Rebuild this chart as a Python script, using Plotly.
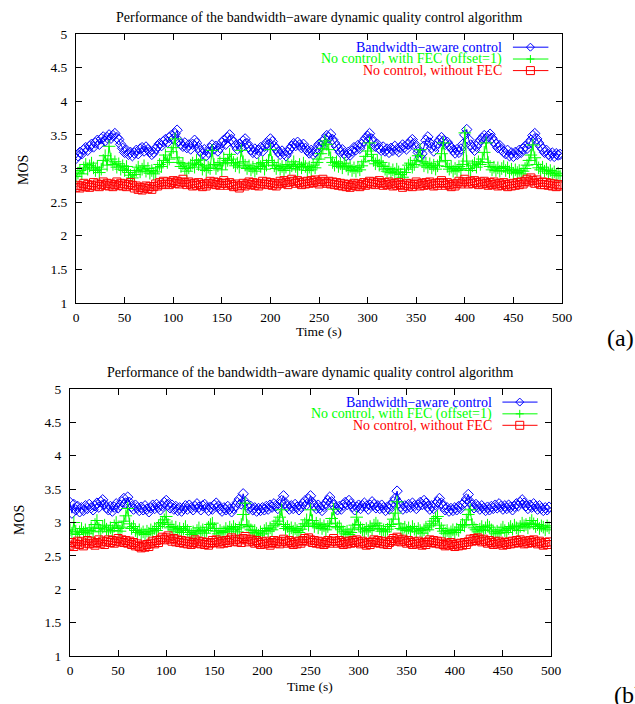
import plotly.graph_objects as go

# Sampling instants (s)
time_s = list(range(0, 500, 2))

# ---- Panel (a) : MOS series ----
a_bw = [
    3.15,3.19,3.24,3.22,3.28,3.31,3.27,3.33,3.36,3.32,
    3.38,3.42,3.36,3.44,3.47,3.41,3.46,3.50,3.45,3.49,
    3.52,3.46,3.43,3.36,3.30,3.24,3.27,3.21,3.24,3.19,
    3.23,3.27,3.22,3.29,3.31,3.26,3.32,3.28,3.25,3.21,
    3.24,3.29,3.33,3.37,3.34,3.40,3.43,3.39,3.46,3.49,
    3.44,3.52,3.57,3.41,3.36,3.33,3.38,3.31,3.35,3.29,
    3.36,3.42,3.38,3.31,3.26,3.22,3.28,3.19,3.24,3.30,
    3.35,3.29,3.33,3.26,3.31,3.38,3.42,3.36,3.46,3.50,
    3.43,3.39,3.34,3.29,3.36,3.31,3.41,3.44,3.37,3.32,
    3.28,3.24,3.29,3.22,3.27,3.31,3.26,3.33,3.38,3.35,
    3.44,3.40,3.33,3.29,3.25,3.21,3.26,3.22,3.19,3.24,
    3.29,3.33,3.37,3.34,3.39,3.35,3.31,3.36,3.30,3.27,
    3.23,3.27,3.21,3.25,3.31,3.36,3.33,3.40,3.44,3.49,
    3.46,3.51,3.43,3.38,3.33,3.29,3.24,3.28,3.22,3.19,
    3.24,3.20,3.26,3.31,3.28,3.34,3.30,3.36,3.41,3.45,
    3.48,3.52,3.44,3.39,3.33,3.36,3.30,3.27,3.32,3.26,
    3.29,3.24,3.30,3.27,3.33,3.28,3.25,3.31,3.35,3.32,
    3.29,3.36,3.40,3.43,3.37,3.31,3.24,3.17,3.22,3.33,
    3.42,3.47,3.38,3.31,3.26,3.33,3.38,3.42,3.46,3.41,
    3.36,3.39,3.34,3.31,3.27,3.23,3.28,3.24,3.29,3.36,
    3.50,3.58,3.43,3.35,3.31,3.27,3.33,3.38,3.42,3.45,
    3.49,3.44,3.48,3.51,3.45,3.40,3.36,3.31,3.34,3.28,
    3.25,3.22,3.27,3.19,3.23,3.18,3.24,3.21,3.27,3.24,
    3.29,3.33,3.30,3.37,3.42,3.49,3.52,3.44,3.38,3.33,
    3.29,3.24,3.27,3.21,3.19,3.23,3.18,3.22,3.20,3.21,
]
a_fec = [
    2.88,2.93,2.97,2.92,3.01,3.06,2.99,3.04,3.08,3.01,
    2.97,3.02,2.94,2.99,3.12,3.19,3.05,3.33,3.14,3.06,
    3.10,3.02,3.07,2.99,3.04,2.97,3.03,2.94,2.90,2.86,
    2.91,2.97,3.02,2.95,2.99,3.04,2.96,3.00,2.93,2.97,
    2.92,2.95,3.01,3.06,3.03,3.12,3.20,3.09,3.14,3.25,
    3.31,3.44,3.16,3.09,3.03,3.07,3.00,2.96,3.01,3.05,
    3.08,3.02,3.12,3.06,3.13,2.99,3.04,2.97,3.02,3.00,
    3.27,3.06,3.00,3.04,3.09,2.98,3.15,3.07,3.12,3.21,
    3.14,3.09,3.04,3.08,3.02,3.27,3.10,3.05,3.00,3.04,
    2.98,3.02,2.96,3.00,3.07,3.03,3.09,2.99,3.05,3.12,
    3.28,3.09,3.04,3.00,3.05,2.99,3.03,2.97,3.02,3.06,
    3.00,3.04,3.10,3.03,2.98,3.06,3.01,3.08,3.03,2.97,
    3.02,2.98,3.05,3.01,3.09,3.14,3.22,3.30,3.41,3.36,
    3.28,3.16,3.09,3.05,3.10,3.03,3.07,3.01,3.08,3.04,
    2.99,3.03,2.97,3.01,2.96,3.02,2.98,3.04,3.10,3.18,
    3.26,3.38,3.21,3.12,3.07,3.11,3.05,3.09,3.03,2.99,
    2.96,3.00,2.94,2.98,2.93,2.99,2.95,2.91,2.87,2.94,
    2.99,3.05,3.08,3.02,3.06,3.12,3.19,3.28,3.10,3.04,
    3.08,3.02,3.07,3.01,3.05,2.99,3.04,3.10,3.22,3.38,
    3.12,3.03,2.99,3.02,2.96,3.00,2.97,3.03,2.98,3.06,
    3.53,3.11,3.00,2.97,3.04,3.08,3.02,3.10,3.06,3.14,
    3.24,3.38,3.09,3.03,2.98,3.02,2.97,3.01,2.96,3.00,
    3.03,2.97,3.01,2.95,2.99,2.93,2.98,2.94,2.97,2.92,
    2.96,3.00,3.05,3.12,3.20,3.35,3.16,3.06,3.01,2.98,
    3.02,2.96,2.99,2.93,2.97,2.92,2.95,2.90,2.93,2.89,
]
a_nofec = [
    2.72,2.75,2.71,2.74,2.78,2.73,2.76,2.72,2.75,2.79,
    2.74,2.77,2.73,2.76,2.80,2.75,2.78,2.74,2.77,2.73,
    2.76,2.80,2.75,2.78,2.74,2.77,2.73,2.76,2.79,2.75,
    2.71,2.74,2.69,2.72,2.68,2.71,2.74,2.70,2.73,2.69,
    2.73,2.77,2.74,2.79,2.76,2.81,2.77,2.80,2.76,2.79,
    2.82,2.78,2.81,2.77,2.80,2.84,2.79,2.76,2.80,2.77,
    2.74,2.78,2.75,2.79,2.76,2.73,2.77,2.74,2.78,2.81,
    2.77,2.80,2.76,2.79,2.75,2.78,2.82,2.78,2.75,2.79,
    2.76,2.73,2.77,2.74,2.71,2.75,2.78,2.74,2.77,2.80,
    2.76,2.79,2.75,2.78,2.74,2.77,2.81,2.77,2.80,2.76,
    2.79,2.75,2.78,2.74,2.77,2.81,2.78,2.82,2.79,2.76,
    2.80,2.84,2.81,2.78,2.82,2.79,2.76,2.80,2.77,2.81,
    2.78,2.82,2.79,2.83,2.80,2.77,2.81,2.84,2.80,2.78,
    2.81,2.77,2.80,2.76,2.79,2.75,2.78,2.74,2.77,2.73,
    2.76,2.72,2.75,2.78,2.74,2.77,2.73,2.76,2.79,2.75,
    2.78,2.81,2.77,2.80,2.76,2.79,2.82,2.78,2.75,2.79,
    2.76,2.80,2.77,2.74,2.78,2.75,2.79,2.76,2.72,2.75,
    2.78,2.74,2.77,2.73,2.76,2.80,2.77,2.74,2.78,2.75,
    2.79,2.76,2.80,2.77,2.74,2.78,2.75,2.79,2.82,2.78,
    2.75,2.79,2.76,2.73,2.77,2.74,2.78,2.81,2.77,2.80,
    2.84,2.80,2.77,2.81,2.78,2.82,2.79,2.76,2.80,2.77,
    2.81,2.78,2.75,2.79,2.76,2.80,2.77,2.74,2.78,2.75,
    2.79,2.76,2.73,2.77,2.74,2.78,2.75,2.79,2.76,2.80,
    2.77,2.81,2.84,2.80,2.86,2.82,2.78,2.83,2.79,2.76,
    2.80,2.76,2.79,2.75,2.78,2.74,2.77,2.73,2.76,2.74,
]

# ---- Panel (b) : MOS series ----
b_bw = [
    3.30,3.14,3.27,3.19,3.24,3.16,3.22,3.18,3.25,3.21,
    3.27,3.22,3.19,3.25,3.29,3.23,3.31,3.34,3.27,3.22,
    3.19,3.24,3.17,3.23,3.28,3.22,3.26,3.31,3.36,3.29,
    3.38,3.30,3.24,3.20,3.26,3.22,3.18,3.23,3.19,3.25,
    3.20,3.16,3.22,3.26,3.21,3.27,3.23,3.19,3.25,3.30,
    3.33,3.27,3.22,3.26,3.20,3.24,3.18,3.22,3.17,3.21,
    3.25,3.20,3.26,3.22,3.19,3.24,3.28,3.23,3.19,3.25,
    3.27,3.22,3.18,3.23,3.20,3.26,3.29,3.24,3.20,3.17,
    3.22,3.19,3.24,3.20,3.16,3.21,3.25,3.30,3.35,3.28,
    3.43,3.31,3.26,3.21,3.24,3.19,3.22,3.17,3.21,3.18,
    3.22,3.19,3.24,3.20,3.26,3.23,3.28,3.25,3.21,3.27,
    3.33,3.40,3.29,3.24,3.20,3.25,3.21,3.27,3.23,3.19,
    3.24,3.28,3.32,3.27,3.35,3.40,3.30,3.25,3.21,3.26,
    3.22,3.18,3.24,3.29,3.33,3.38,3.31,3.26,3.22,3.19,
    3.24,3.20,3.26,3.30,3.27,3.33,3.28,3.24,3.19,3.23,
    3.26,3.21,3.25,3.29,3.24,3.20,3.26,3.31,3.27,3.22,
    3.25,3.21,3.26,3.22,3.18,3.23,3.20,3.26,3.31,3.36,
    3.47,3.29,3.24,3.20,3.25,3.22,3.27,3.23,3.29,3.25,
    3.21,3.26,3.30,3.27,3.33,3.29,3.24,3.20,3.25,3.21,
    3.27,3.31,3.36,3.29,3.24,3.19,3.22,3.17,3.21,3.18,
    3.22,3.19,3.24,3.21,3.27,3.30,3.35,3.42,3.31,3.26,
    3.22,3.27,3.24,3.20,3.25,3.21,3.18,3.23,3.19,3.24,
    3.21,3.26,3.22,3.28,3.24,3.20,3.25,3.21,3.26,3.23,
    3.19,3.24,3.28,3.25,3.30,3.34,3.29,3.25,3.21,3.26,
    3.23,3.28,3.24,3.20,3.25,3.21,3.18,3.22,3.19,3.23,
]
b_fec = [
    2.89,2.84,3.00,2.87,2.82,2.86,2.91,2.85,2.89,2.83,
    2.88,2.92,2.86,2.97,3.03,2.91,2.87,2.93,2.96,2.90,
    2.86,2.92,2.88,2.95,3.00,2.91,2.87,2.93,3.02,3.10,
    3.21,2.98,2.91,2.94,2.88,2.85,2.89,2.83,2.86,2.82,
    2.87,2.84,2.89,2.86,2.91,2.88,2.94,2.98,3.00,3.04,
    3.09,2.97,2.92,2.94,2.89,2.93,2.87,2.91,2.85,2.90,
    2.94,2.88,2.85,2.82,2.86,2.83,2.88,2.92,2.86,2.89,
    2.84,2.88,2.93,2.97,2.99,2.91,2.87,2.83,2.88,2.85,
    2.86,2.91,2.87,2.93,2.89,2.94,2.90,2.86,2.92,2.97,
    3.12,3.29,2.96,2.94,2.89,2.85,2.88,2.84,2.81,2.86,
    2.83,2.88,2.91,2.87,2.92,2.89,2.95,2.98,3.02,3.08,
    3.19,2.97,2.91,2.94,2.89,2.92,2.87,2.91,2.88,2.85,
    2.90,2.94,2.98,3.04,2.96,3.19,3.03,2.94,2.99,2.92,
    2.97,2.91,2.95,2.89,2.94,2.98,3.06,3.20,2.99,2.92,
    2.94,2.89,2.86,2.83,2.87,2.82,2.85,2.90,2.96,3.08,
    2.97,2.92,2.89,2.86,2.91,2.88,2.94,2.90,2.96,2.99,
    2.95,2.91,2.87,2.89,2.86,2.90,2.94,2.97,3.05,3.14,
    3.31,2.98,2.91,2.89,2.93,2.88,2.92,2.87,2.94,2.90,
    2.86,2.91,2.88,2.84,2.89,2.93,2.89,2.95,2.98,3.02,
    3.06,3.09,2.96,2.91,2.87,2.84,2.88,2.83,2.86,2.89,
    2.85,2.90,2.88,2.93,2.97,2.95,3.04,3.12,3.19,2.97,
    2.92,2.89,2.86,2.90,2.94,2.88,2.92,2.96,2.93,2.89,
    2.86,2.83,2.87,2.84,2.89,2.93,2.88,2.85,2.91,2.94,
    2.90,2.96,2.92,2.88,2.94,2.99,2.95,2.97,2.92,2.99,
    3.03,2.98,2.94,2.97,2.91,2.95,2.93,2.89,2.95,2.92,
]
b_nofec = [
    2.66,2.70,2.64,2.68,2.72,2.67,2.71,2.65,2.69,2.73,
    2.68,2.72,2.69,2.66,2.70,2.74,2.69,2.72,2.67,2.71,
    2.74,2.70,2.73,2.69,2.72,2.76,2.71,2.74,2.70,2.73,
    2.69,2.72,2.67,2.70,2.65,2.68,2.64,2.62,2.66,2.63,
    2.67,2.64,2.69,2.72,2.68,2.73,2.70,2.75,2.78,2.74,
    2.77,2.80,2.75,2.72,2.76,2.71,2.74,2.70,2.73,2.69,
    2.72,2.68,2.71,2.67,2.70,2.74,2.69,2.72,2.68,2.71,
    2.67,2.70,2.66,2.69,2.73,2.70,2.74,2.71,2.68,2.72,
    2.69,2.73,2.70,2.74,2.77,2.72,2.75,2.71,2.74,2.70,
    2.76,2.79,2.74,2.71,2.75,2.72,2.69,2.73,2.70,2.67,
    2.71,2.68,2.72,2.69,2.66,2.70,2.73,2.69,2.72,2.68,
    2.71,2.75,2.72,2.69,2.73,2.70,2.67,2.71,2.68,2.72,
    2.69,2.73,2.76,2.72,2.77,2.74,2.70,2.73,2.69,2.72,
    2.68,2.71,2.67,2.70,2.73,2.69,2.72,2.76,2.72,2.69,
    2.73,2.70,2.67,2.71,2.68,2.72,2.69,2.73,2.70,2.74,
    2.71,2.68,2.72,2.69,2.66,2.70,2.67,2.71,2.74,2.70,
    2.73,2.69,2.72,2.68,2.71,2.67,2.70,2.73,2.76,2.72,
    2.78,2.74,2.71,2.75,2.72,2.69,2.73,2.70,2.67,2.71,
    2.68,2.72,2.69,2.66,2.70,2.67,2.71,2.74,2.70,2.73,
    2.69,2.72,2.68,2.71,2.67,2.65,2.69,2.66,2.70,2.67,
    2.64,2.68,2.65,2.69,2.66,2.70,2.67,2.71,2.75,2.72,
    2.76,2.73,2.77,2.74,2.71,2.75,2.72,2.69,2.73,2.70,
    2.67,2.71,2.68,2.72,2.69,2.66,2.70,2.67,2.71,2.68,
    2.72,2.69,2.73,2.70,2.74,2.71,2.68,2.72,2.69,2.73,
    2.70,2.74,2.71,2.68,2.72,2.69,2.66,2.70,2.67,2.71,
]

series_names = [
    "Bandwidth\u2212aware control",
    "No control, with FEC (offset=1)",
    "No control, without FEC",
]
series_colors = ["#0000ff", "#00ff00", "#ff0000"]
series_symbols = ["diamond-open", "cross-thin-open", "square-open"]
series_sizes = [8, 9, 8]

chart_title = "Performance of the bandwidth\u2212aware dynamic quality control algorithm"
x_title = "Time (s)"
y_title = "MOS"
panel_tags = ["(a)", "(b)"]

SERIF = "Liberation Serif"
W, H = 635, 704

# Plot-area pixel boxes: (left, right, top, bottom)
boxes = [(76, 562, 34, 303), (70, 551, 389, 656)]


def dom_x(l, r):
    return [l / W, r / W]


def dom_y(t, b):
    return [1 - b / H, 1 - t / H]


fig = go.Figure()

panels = [(a_bw, a_fec, a_nofec), (b_bw, b_fec, b_nofec)]
for p, data in enumerate(panels):
    xa = "x" if p == 0 else "x2"
    ya = "y" if p == 0 else "y2"
    for k, ys in enumerate(data):
        fig.add_trace(go.Scatter(
            x=time_s, y=ys, xaxis=xa, yaxis=ya,
            mode="lines+markers", name=series_names[k], showlegend=False,
            line=dict(color=series_colors[k], width=1),
            marker=dict(symbol=series_symbols[k], size=series_sizes[k],
                        color=series_colors[k],
                        line=dict(color=series_colors[k], width=1)),
        ))

axis_common = dict(
    showgrid=False, zeroline=False, showline=True, linecolor="black", linewidth=1,
    mirror="ticks", ticks="inside", ticklen=6, tickcolor="black", tickwidth=1,
    tickfont=dict(family=SERIF, size=13.5, color="black"), automargin=False,
)

layout = dict(
    width=W, height=H,
    margin=dict(l=0, r=0, t=0, b=0, pad=0, autoexpand=False),
    paper_bgcolor="white", plot_bgcolor="white", showlegend=False,
)
for p, (l, r, t, b) in enumerate(boxes):
    sfx = "" if p == 0 else "2"
    layout["xaxis" + sfx] = dict(axis_common, domain=dom_x(l, r), range=[0, 500],
                                 tick0=0, dtick=50, anchor="y" + sfx,
                                 ticklabelstandoff=2)
    layout["yaxis" + sfx] = dict(axis_common, domain=dom_y(t, b), range=[1, 5],
                                 tick0=1, dtick=0.5, anchor="x" + sfx,
                                 ticklabelstandoff=5)
fig.update_layout(**layout)

annotations = []
shapes = []

# Titles, axis labels and panel tags
title_pos = [(319, 17), (310, 372)]
xt_pos = [(319, 331), (310, 686)]
yt_pos = [(23, 170), (19, 520)]
tag_pos = [(605, 338), (612, 695)]
for p in range(2):
    tx, ty = title_pos[p]
    annotations.append(dict(text=chart_title, xref="paper", yref="paper",
                            x=tx / W, y=1 - ty / H, xanchor="center", yanchor="middle",
                            showarrow=False, font=dict(family=SERIF, size=14, color="black")))
    tx, ty = xt_pos[p]
    annotations.append(dict(text=x_title, xref="paper", yref="paper",
                            x=tx / W, y=1 - ty / H, xanchor="center", yanchor="middle",
                            showarrow=False, font=dict(family=SERIF, size=13.5, color="black")))
    tx, ty = yt_pos[p]
    annotations.append(dict(text=y_title, xref="paper", yref="paper", textangle=-90,
                            x=tx / W, y=1 - ty / H, xanchor="center", yanchor="middle",
                            showarrow=False, font=dict(family=SERIF, size=14, color="black")))
    tx, ty = tag_pos[p]
    annotations.append(dict(text=panel_tags[p], xref="paper", yref="paper",
                            x=tx / W, y=1 - ty / H, xanchor="left", yanchor="middle",
                            showarrow=False, font=dict(family=SERIF, size=24, color="black")))

# Key (text right-aligned, sample line with symbol on its right)
key_rows = [0.951, 0.907, 0.864]
key_text_x = 0.881
key_line = (0.899, 0.972)
key_mark_x = 0.935
mark_paths = [
    "M0,4 L4,0 L0,-4 L-4,0 Z",
    "M-4,0 L4,0 M0,-4 L0,4",
    "M-4,-4 L4,-4 L4,4 L-4,4 Z",
]
for p in range(2):
    xr = "x domain" if p == 0 else "x2 domain"
    yr = "y domain" if p == 0 else "y2 domain"
    for k in range(3):
        yk = key_rows[k]
        annotations.append(dict(text=series_names[k], xref=xr, yref=yr,
                                x=key_text_x, y=yk, xanchor="right", yanchor="middle",
                                showarrow=False,
                                font=dict(family=SERIF, size=14, color=series_colors[k])))
        shapes.append(dict(type="line", xref=xr, yref=yr, x0=key_line[0], x1=key_line[1],
                           y0=yk, y1=yk, line=dict(color=series_colors[k], width=1)))
        shapes.append(dict(type="path", xref=xr, yref=yr, xsizemode="pixel",
                           ysizemode="pixel", xanchor=key_mark_x, yanchor=yk,
                           path=mark_paths[k], fillcolor="rgba(0,0,0,0)",
                           line=dict(color=series_colors[k], width=1)))

fig.update_layout(annotations=annotations, shapes=shapes)
fig.write_html("out.html")
